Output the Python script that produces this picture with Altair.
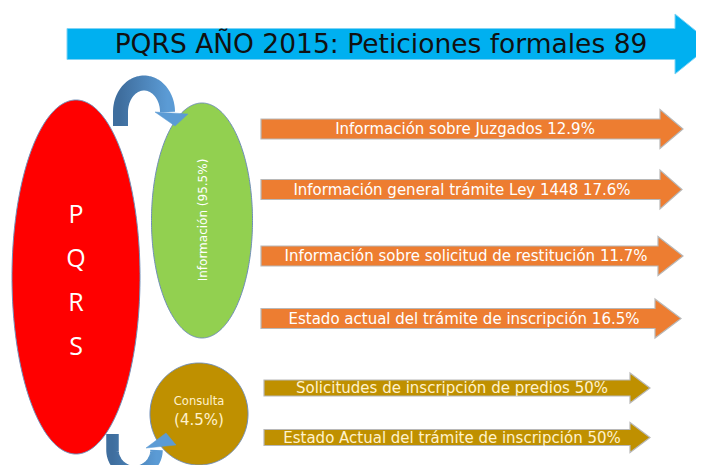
import altair as alt
import pandas as pd
import numpy as np

# ---------------- data ----------------
title_text = "PQRS AÑO 2015: Peticiones formales 89"
root_letters = ["P", "Q", "R", "S"]
group_names = ["Información", "Consulta"]
group_pct = [95.5, 4.5]
info_items = [
    "Información sobre Juzgados",
    "Información general trámite Ley 1448",
    "Información sobre solicitud de restitución",
    "Estado actual del trámite de inscripción",
]
info_pct = [12.9, 17.6, 11.7, 16.5]
consulta_items = [
    "Solicitudes de inscripción de predios",
    "Estado Actual del trámite de inscripción",
]
consulta_pct = [50, 50]

# ---------------- layout (image pixel space) ----------------
W, H = 688, 457
xs = alt.Scale(domain=[8, 8 + W], nice=False, zero=False)
ys = alt.Scale(domain=[8, 8 + H], reverse=True, nice=False, zero=False)

FONT = "DejaVu Sans"
info_mid_y = [129, 189.5, 256, 318.5]
info_body_end = [660, 660, 658, 655]
info_tip = [683, 682, 683, 681]
cons_mid_y = [388, 437.5]
letter_y = [215, 259, 303, 347]


def fmt(p):
    return f"{p:g}%"


def arrow_rows(sid, x0, xb, tip, ym, bh, hh):
    return [
        dict(id=sid, x=x0, y=ym - bh, y2=ym + bh),
        dict(id=sid, x=xb, y=ym - bh, y2=ym + bh),
        dict(id=sid, x=xb + 0.01, y=ym - hh, y2=ym + hh),
        dict(id=sid, x=tip, y=ym, y2=ym),
    ]


def ellipse_rows(sid, cx, cy, rx, ry, n=160):
    t = np.linspace(np.pi, 0, n)
    return [dict(id=sid, x=cx + rx * np.cos(a), y=cy - ry * np.sin(a), y2=cy + ry * np.sin(a)) for a in t]


def tri_rows(sid, pts):
    pts = sorted(pts)
    (xa, ya), (xm, ym), (xc, yc) = pts
    yl = ya + (yc - ya) * (xm - xa) / (xc - xa)
    return [
        dict(id=sid, x=xa, y=ya, y2=ya),
        dict(id=sid, x=xm, y=min(ym, yl), y2=max(ym, yl)),
        dict(id=sid, x=xc, y=yc, y2=yc),
    ]


def area_layer(rows, fill, stroke, sw):
    return alt.Chart(pd.DataFrame(rows)).mark_area(
        fill=fill, stroke=stroke, strokeWidth=sw, interpolate="linear", opacity=1, fillOpacity=1
    ).encode(
        x=alt.X("x:Q", scale=xs, axis=None),
        y=alt.Y("y:Q", scale=ys, axis=None),
        y2="y2:Q",
        detail="id:N",
    )


def curve_rows(sid, x_start, y_start, cx, cy, rx, ry, down):
    rows = [dict(id=sid, o=0, x=x_start, y=y_start)]
    t = np.linspace(np.pi, 0, 60)
    for i, a in enumerate(t):
        yy = cy + ry * np.sin(a) if down else cy - ry * np.sin(a)
        rows.append(dict(id=sid, o=i + 1, x=cx + rx * np.cos(a), y=yy))
    return rows


grad = alt.Gradient(
    gradient="linear",
    stops=[alt.GradientStop(color="#3F6E9E", offset=0), alt.GradientStop(color="#5B9BD5", offset=1)],
    x1=0, x2=1, y1=0, y2=0,
)


def curve_layer(rows, sw):
    return alt.Chart(pd.DataFrame(rows)).mark_line(
        color=grad, strokeWidth=sw, strokeCap="butt", strokeJoin="round"
    ).encode(
        x=alt.X("x:Q", scale=xs, axis=None),
        y=alt.Y("y:Q", scale=ys, axis=None),
        order="o:Q",
        detail="id:N",
    )


layers = []

# curved connectors
layers.append(curve_layer(curve_rows("c1", 120.5, 126, 144, 112, 23.5, 29, False), 15))
layers.append(curve_layer(curve_rows("c2", 112.5, 434, 134.5, 450, 22, 22, True), 12.5))

# title arrow
layers.append(area_layer(arrow_rows("t", 67, 675, 712, 44, 15.5, 30), "#00B0F0", "#7FD3F5", 1))

# ellipses
layers.append(area_layer(ellipse_rows("red", 76, 277, 64, 177), "#FF0000", "#6F8DB8", 1))
layers.append(area_layer(ellipse_rows("green", 202, 220.5, 50.5, 117.5), "#92D050", "#6F8DB8", 1))
layers.append(area_layer(ellipse_rows("cons", 199, 414, 49, 51), "#BF9000", "#6F8DB8", 1))

# arrowheads of connectors
layers.append(area_layer(tri_rows("h1", [(155, 112), (188, 114), (175, 126)]), "#5B9BD5", "#5B9BD5", 0.5))
layers.append(area_layer(tri_rows("h2", [(146, 448), (176, 445), (166, 433)]), "#5B9BD5", "#5B9BD5", 0.5))

# orange arrows
orange_rows = []
for i, ym in enumerate(info_mid_y):
    orange_rows += arrow_rows(f"o{i}", 261, info_body_end[i], info_tip[i], ym, 10, 19.5)
layers.append(area_layer(orange_rows, "#ED7D31", "#B8B8B8", 1.2))

gold_rows = []
for i, ym in enumerate(cons_mid_y):
    gold_rows += arrow_rows(f"g{i}", 264, 630, 650, ym, 8, 15)
layers.append(area_layer(gold_rows, "#BF9000", "#B8B8B8", 1.2))


def text_layer(df, size, color, angle=0, font=FONT):
    kw = dict(align="center", baseline="middle", font=font, fontSize=size, color=color)
    if angle:
        kw["angle"] = angle
    return alt.Chart(df).mark_text(**kw).encode(
        x=alt.X("x:Q", scale=xs, axis=None),
        y=alt.Y("y:Q", scale=ys, axis=None),
        text="label:N",
    )


layers.append(text_layer(pd.DataFrame([dict(x=381, y=45, label=title_text)]), 26.5, "#111111"))
layers.append(text_layer(pd.DataFrame(dict(x=[76] * 4, y=letter_y, label=root_letters)), 25, "#FFFFFF", font="Open Sans"))
layers.append(text_layer(pd.DataFrame([dict(x=203, y=220, label=f"{group_names[0]} ({fmt(group_pct[0])})")]), 12, "#FFFFFF", angle=270))
layers.append(text_layer(pd.DataFrame([dict(x=199, y=402, label=group_names[1])]), 11.5, "#FFF2CC"))
layers.append(text_layer(pd.DataFrame([dict(x=199, y=420, label=f"({fmt(group_pct[1])})")]), 15, "#FFF2CC"))

info_df = pd.DataFrame(dict(
    x=[465, 462, 466, 464],
    y=info_mid_y,
    label=[f"{n} {fmt(p)}" for n, p in zip(info_items, info_pct)],
))
layers.append(text_layer(info_df, 15, "#FFFFFF"))
cons_df = pd.DataFrame(dict(
    x=[452, 452],
    y=cons_mid_y,
    label=[f"{n} {fmt(p)}" for n, p in zip(consulta_items, consulta_pct)],
))
layers.append(text_layer(cons_df, 15, "#FFF2CC"))

chart = alt.layer(*layers).properties(
    width=W, height=H, padding=0, autosize=alt.AutoSizeParams(type="none"), background="#FFFFFF"
).configure_view(strokeWidth=0)

chart.save("out.html", embed_options={"renderer": "svg", "actions": False})
